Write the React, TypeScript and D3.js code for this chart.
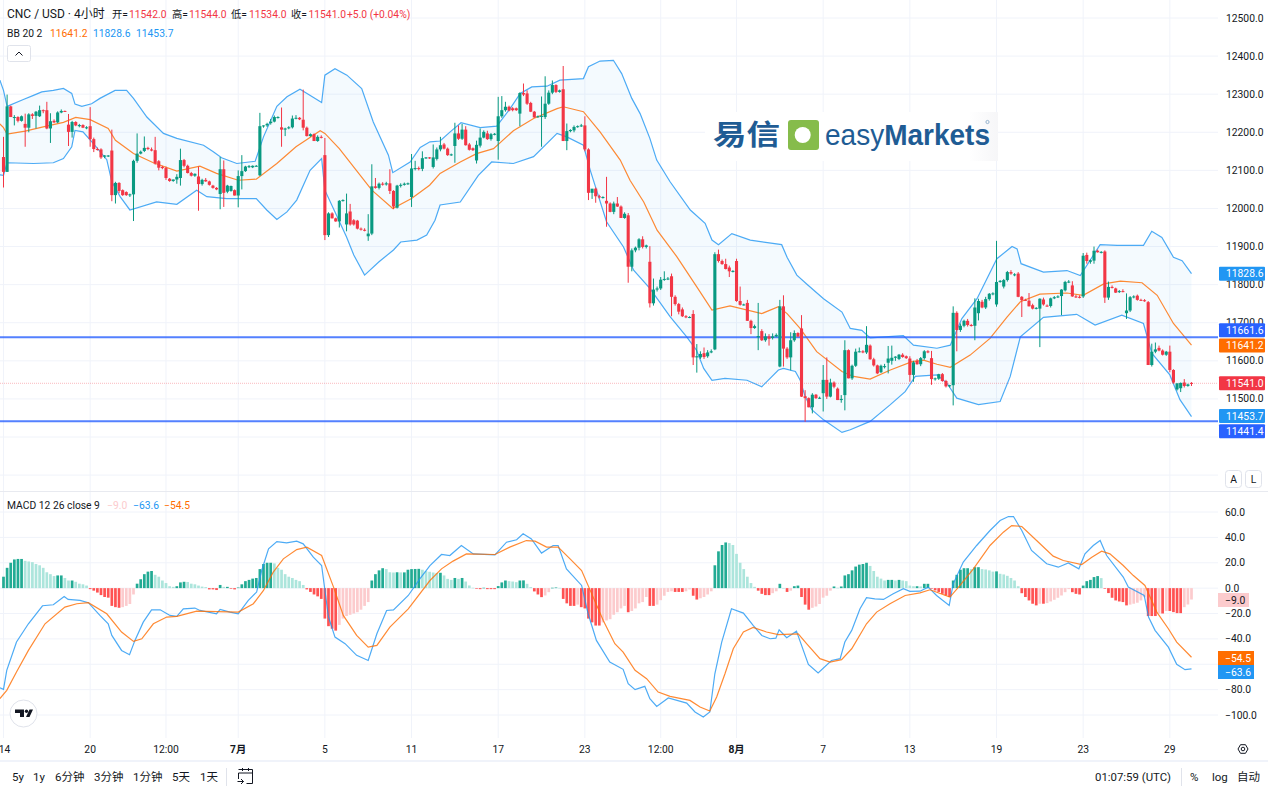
import React from "react";
import * as d3 from "d3";

const W = 1268;
const H = 793;
const FONT = "Roboto, 'Noto Sans CJK SC', sans-serif";

// candles
const opens = [
  12135,12096,12268,12240,12240,12230,12222,12212,12247,12243,
  12242,12258,12258,12210,12230,12226,12252,12256,12220,12201,
  12227,12216,12219,12213,12216,12182,12156,12155,12136,12137,
  12152,12035,12067,12048,12043,12035,12037,12125,12144,12151,
  12159,12155,12153,12124,12109,12106,12078,12072,12076,12080,
  12127,12112,12093,12086,12084,12064,12075,12071,12060,12054,
  12038,12103,12044,12046,12048,12034,12085,12098,12110,12108,
  12112,12087,12216,12218,12224,12228,12240,12213,12207,12212,
  12213,12236,12238,12233,12212,12190,12195,12177,12188,12140,
  11930,11987,11974,11966,12020,11958,11992,11969,11968,11947,
  11944,11927,11934,12058,12054,12065,12063,12066,12046,12002,
  12060,12062,12065,12030,12105,12106,12104,12132,12134,12109,
  12130,12155,12168,12157,12140,12164,12197,12183,12207,12168,
  12158,12126,12165,12186,12197,12182,12195,12177,12242,12258,
  12267,12263,12263,12249,12303,12302,12277,12254,12240,12242,
  12240,12275,12304,12324,12306,12313,12177,12203,12205,12214,
  12216,12218,12155,12041,12052,12032,12029,12020,12013,11991,
  12013,12005,11975,11982,11847,11890,11897,11919,11899,11860,
  11751,11787,11790,11813,11815,11822,11768,11749,11735,11717,
  11714,11723,11609,11609,11620,11612,11622,11630,11880,11862,
  11854,11845,11835,11862,11757,11747,11752,11705,11686,11662,
  11678,11654,11664,11660,11664,11585,11743,11632,11609,11654,
  11673,11685,11507,11502,11478,11511,11502,11515,11550,11506,
  11543,11527,11497,11510,11628,11554,11587,11624,11625,11622,
  11640,11604,11588,11570,11585,11595,11600,11608,11605,11616,
  11612,11606,11563,11600,11591,11607,11625,11607,11552,11553,
  11565,11547,11533,11536,11726,11681,11692,11705,11694,11692,
  11725,11755,11740,11762,11776,11748,11807,11795,11812,11833,
  11826,11829,11768,11760,11758,11746,11737,11737,11761,11745,
  11744,11764,11767,11770,11785,11807,11798,11769,11768,11769,
  11878,11860,11863,11889,11885,11887,11766,11794,11790,11782,
  11783,11725,11732,11767,11771,11760,11759,11754,11589,11624,
  11634,11627,11616,11624,11576,11525,11528,11543,11534,11542,
];
const highs = [
  12188,12299,12270,12245,12242,12244,12249,12250,12250,12256,
  12270,12260,12280,12250,12234,12255,12260,12257,12248,12230,
  12229,12222,12221,12216,12266,12186,12160,12158,12140,12140,
  12207,12070,12069,12050,12045,12039,12128,12197,12152,12189,
  12162,12160,12188,12127,12112,12110,12080,12076,12090,12157,
  12130,12115,12096,12092,12110,12078,12080,12073,12062,12056,
  12135,12126,12062,12060,12050,12100,12140,12112,12114,12113,
  12114,12251,12218,12225,12235,12244,12242,12265,12212,12216,
  12244,12245,12240,12312,12215,12197,12197,12192,12192,12185,
  11990,11990,11976,12022,12024,12039,12012,11972,11970,11950,
  11948,11985,12116,12080,12068,12069,12070,12103,12048,12062,
  12066,12068,12068,12143,12125,12110,12150,12135,12135,12168,
  12160,12188,12172,12160,12144,12225,12218,12222,12216,12172,
  12160,12178,12210,12205,12204,12198,12198,12293,12295,12280,
  12270,12266,12265,12305,12328,12310,12280,12256,12244,12294,
  12347,12310,12336,12326,12312,12374,12223,12208,12218,12218,
  12222,12242,12158,12045,12055,12036,12032,12083,12016,12018,
  12030,12008,11990,11988,11895,11900,11922,11927,11905,11901,
  11816,11795,11820,11835,11820,11829,11772,11752,11740,11720,
  11717,11733,11644,11625,11635,11628,11630,11885,11892,11866,
  11868,11850,11838,11868,11795,11750,11760,11708,11695,11752,
  11683,11672,11670,11672,11672,11760,11772,11636,11675,11680,
  11675,11720,11523,11504,11515,11513,11506,11589,11609,11553,
  11546,11530,11510,11654,11630,11590,11632,11635,11628,11691,
  11643,11608,11590,11590,11592,11639,11640,11612,11618,11620,
  11614,11612,11600,11605,11610,11628,11628,11626,11556,11566,
  11568,11550,11537,11743,11730,11698,11708,11710,11697,11764,
  11763,11760,11768,11778,11780,11915,11812,11815,11836,11838,
  11830,11833,11770,11763,11778,11750,11741,11764,11766,11748,
  11766,11770,11772,11788,11810,11812,11809,11773,11772,11883,
  11884,11866,11900,11892,11888,11890,11808,11798,11792,11786,
  11788,11777,11770,11772,11774,11763,11762,11757,11645,11648,
  11640,11630,11626,11640,11578,11540,11543,11552,11540,11544,
];
const lows = [
  12055,12096,12240,12218,12226,12228,12162,12200,12235,12210,
  12240,12250,12208,12172,12224,12224,12250,12254,12164,12186,
  12216,12213,12211,12208,12162,12148,12152,12130,12132,12135,
  12019,12013,12040,12033,12033,12030,11967,12120,12142,12148,
  12153,12150,12115,12100,12103,12075,12070,12070,12065,12060,
  12108,12092,12084,12083,11994,12060,12070,12060,12052,12048,
  11998,12004,12040,12044,12034,12003,12050,12096,12106,12106,
  12110,12085,12212,12214,12220,12226,12236,12162,12190,12208,
  12210,12234,12232,12205,12189,12188,12177,12175,12184,11917,
  11925,11974,11965,11950,12018,11940,11955,11955,11945,11942,
  11940,11915,11930,12052,12050,12060,12060,12038,11998,12000,
  12055,12060,12062,12004,12100,12100,12098,12130,12130,12105,
  12126,12150,12155,12138,12138,12120,12180,12180,12165,12152,
  12151,12118,12160,12184,12180,12178,12192,12128,12238,12254,
  12255,12255,12256,12216,12295,12272,12253,12238,12238,12162,
  12235,12272,12300,12303,12304,12177,12153,12200,12200,12212,
  12214,12150,12022,12025,12015,12026,12026,11952,11990,11985,
  12004,11975,11973,11805,11835,11885,11890,11895,11895,11740,
  11745,11782,11786,11810,11812,11717,11745,11722,11715,11712,
  11712,11589,11569,11605,11605,11608,11620,11628,11858,11852,
  11840,11820,11832,11755,11745,11745,11705,11670,11684,11628,
  11652,11650,11640,11656,11662,11583,11585,11605,11575,11650,
  11662,11505,11440,11478,11462,11500,11500,11467,11500,11504,
  11528,11497,11490,11470,11554,11550,11584,11622,11620,11618,
  11603,11585,11565,11568,11580,11567,11590,11600,11602,11608,
  11605,11545,11545,11590,11586,11603,11620,11537,11548,11550,
  11545,11530,11530,11483,11625,11676,11688,11690,11690,11654,
  11706,11738,11736,11758,11772,11742,11805,11790,11808,11826,
  11822,11767,11715,11757,11743,11735,11735,11636,11745,11742,
  11740,11762,11765,11720,11782,11804,11768,11765,11764,11765,
  11855,11855,11855,11884,11882,11752,11760,11790,11778,11778,
  11780,11710,11728,11764,11758,11758,11755,11589,11585,11620,
  11625,11614,11613,11570,11540,11522,11518,11530,11532,11534,
];
const closes = [
  12096,12268,12240,12240,12230,12242,12212,12247,12243,12254,
  12258,12256,12210,12229,12226,12252,12256,12255,12201,12227,
  12218,12219,12212,12213,12182,12156,12154,12134,12139,12139,
  12035,12067,12046,12035,12035,12037,12125,12144,12149,12159,
  12156,12152,12118,12107,12106,12080,12072,12076,12083,12127,
  12112,12093,12086,12091,12064,12075,12071,12062,12054,12050,
  12103,12041,12060,12059,12034,12085,12098,12110,12111,12112,
  12112,12216,12218,12222,12228,12240,12240,12207,12210,12213,
  12236,12238,12234,12212,12190,12195,12177,12188,12187,11930,
  11987,11974,11966,12020,12022,11987,11958,11958,11947,11945,
  11943,11934,12058,12054,12065,12063,12066,12046,12005,12060,
  12062,12065,12066,12105,12106,12104,12132,12134,12133,12134,
  12155,12166,12157,12140,12142,12197,12183,12207,12166,12154,
  12153,12167,12186,12201,12182,12195,12196,12242,12258,12267,
  12257,12258,12258,12303,12299,12275,12254,12239,12242,12243,
  12275,12304,12324,12306,12310,12177,12203,12206,12214,12216,
  12218,12155,12041,12052,12032,12029,12030,12013,11991,12013,
  12005,11975,11986,11847,11890,11897,11919,11899,11903,11751,
  11787,11790,11813,11815,11816,11768,11749,11729,11717,11714,
  11715,11609,11612,11618,11610,11622,11625,11880,11862,11854,
  11841,11835,11836,11757,11747,11748,11705,11686,11691,11665,
  11654,11664,11658,11664,11668,11743,11632,11609,11654,11673,
  11664,11506,11502,11478,11511,11502,11503,11550,11506,11543,
  11532,11497,11500,11628,11554,11587,11624,11625,11622,11642,
  11604,11588,11567,11587,11586,11606,11608,11611,11616,11610,
  11607,11563,11596,11591,11607,11625,11622,11552,11554,11565,
  11547,11533,11536,11726,11681,11692,11705,11694,11692,11740,
  11757,11740,11762,11776,11777,11807,11810,11812,11833,11829,
  11827,11768,11759,11758,11743,11737,11739,11763,11748,11744,
  11764,11767,11769,11787,11807,11808,11769,11768,11767,11876,
  11862,11864,11889,11885,11886,11766,11794,11792,11779,11783,
  11781,11732,11767,11769,11760,11759,11757,11589,11624,11630,
  11627,11616,11624,11576,11543,11541,11542,11534,11538,11541,
];

const macdHist = [
  9,16,20,22.6,23,23,21.5,21,20.5,19,
  18,16,12.5,11,9.5,10,10,8,6,6,
  5,3.5,3,2,-0.8,-2,-3.5,-5.5,-7,-7.5,
  -14,-15,-15.5,-15,-14,-12.5,-5,3.5,7,11,
  13,13.5,10.5,9,6,4,1.5,1,1.5,4.5,
  5,4.8,3.5,3,2,1.2,0.8,-1,-1,-1.5,
  2.5,1,1,-0.5,-1,0.5,3,5.5,6.5,7.5,
  8,15,19,20,20,19.5,16,14.5,11,9,
  8,6.5,5.5,2.5,-1,-3,-5,-6.5,-8.5,-24,
  -30,-32,-33.5,-29,-24,-22,-21,-20,-19,-17,
  -14,-11,6,11,14,15.7,15,12.5,12.3,12.5,
  12.4,12.4,14.5,15,15.1,15.2,14.5,13.4,12.9,12.3,
  12,12.1,10,7.3,6.5,8,7.3,8,5.2,2.1,
  0.3,-0.5,-0.8,0.3,-0.8,-0.8,-0.8,1.6,4.5,6,
  5.5,5.2,4.7,6,6.1,3.4,0.8,-2.6,-5,-7.1,
  -5.8,-3.2,0.3,0.5,0.2,-8.5,-12,-14,-14,-13,
  -15,-16,-24,-27,-29.5,-29.5,-27,-25.5,-24.5,-21,
  -19,-16,-14,-19,-18,-16,-12,-11,-7,-14,
  -14,-13,-9.5,-6,-3,-2.5,-3,-3,-3,-2.5,
  -1,-6,-9,-8,-7,-5,-2.5,18,29,34,
  36,35.5,34,27,20,15,9,4,1,-2,
  -4.5,-5.5,-5.5,-4,-2.5,3.4,0,-3,-2,1.5,
  2,-7,-13,-17,-15.5,-14.5,-12.5,-7.5,-6,-2,
  1.3,0.3,1.3,10,11,14,17,18.5,19,20,
  17.5,13.5,9,7.5,6,6.5,6.5,6,6.5,6,
  5.5,2,1.5,1.5,1.3,3.4,3.4,-0.5,-1.8,-3,
  -4.5,-5.8,-7,6,10.5,14.5,15.7,15.7,15,16.5,
  16.5,15,14.7,14,13,13.2,11.3,10.8,9.7,8,
  6,1.5,-4,-7,-9.7,-12.3,-13.6,-12.3,-12.3,-11.8,
  -10.5,-9.2,-7.6,-5.8,-3.2,-0.8,-3.2,-4.5,-5,2,
  5.5,6.5,8.7,9.5,7.9,-0.5,-3.9,-7.6,-9.7,-10.5,
  -11,-13.6,-13,-12.3,-11.5,-9.7,-7.1,-22,-22,-22,
  -20,-20,-18,-18,-18.9,-19.7,-19.7,-15,-12.9,-9,
];

// indicator lines: [bar, value] at the points where the drawn line bends
const bbUpper: [number, number][] = [
  [-1,12337],[0,12310],[1,12268],[5.5,12286],[8.3,12297],[10.6,12306],[13.8,12310],[16.6,12315],[18.9,12302],[19.8,12274],
  [21.7,12268],[24.4,12275],[26.7,12289],[30.9,12310],[34.1,12310],[36,12289],[39.7,12240],[44.3,12197],[48,12184],[55.4,12166],
  [58.1,12149],[60.4,12133],[64.6,12118],[69.7,12124],[72,12188],[75.7,12268],[78.5,12293],[82.1,12313],[84.4,12300],[88.1,12278],
  [89,12350],[91.8,12367],[95.1,12350],[99.2,12315],[102.4,12227],[106.6,12140],[107.8,12094],[112.6,12122],[115.4,12160],[118.1,12175],
  [120.9,12177],[123.7,12201],[126.7,12225],[132,12212],[136.6,12216],[140.3,12262],[143.1,12302],[146.3,12319],[150.5,12321],[154.1,12337],
  [160.6,12341],[162,12372],[165.2,12387],[168.9,12389],[171.2,12354],[174,12289],[176.3,12249],[179,12184],[180.9,12127],[184.6,12070],
  [190.2,11996],[194.3,11961],[196.2,11917],[198,11905],[201.7,11934],[206.8,11917],[215.5,11905],[217,11872],[219.7,11825],[222.5,11801],
  [227.1,11763],[232.2,11728],[234.5,11685],[237.7,11680],[240,11660],[249.2,11666],[252,11641],[258.5,11633],[262.2,11641],[265.4,11711],
  [269.6,11763],[275.1,11868],[279.3,11900],[280.7,11894],[281.8,11855],[288,11833],[294.5,11837],[298.2,11824],[303.7,11905],[308.4,11903],
  [315.7,11903],[318,11940],[320.8,11924],[324,11872],[326.4,11863],[329,11829],
];
const bbMiddle: [number, number][] = [
  [-1,12222],[0,12212],[1,12195],[6,12203],[11,12214],[16.6,12226],[20,12239],[24,12233],[29,12210],[31,12179],
  [36,12144],[41.5,12120],[48,12098],[54.4,12111],[59,12092],[65,12074],[70,12077],[75.7,12118],[81,12162],[87.7,12204],
  [89,12197],[93,12157],[102,12048],[107.8,12000],[113,12026],[118,12061],[120.9,12092],[126.5,12122],[131,12144],[135.7,12157],
  [141.2,12204],[146.8,12236],[153.3,12262],[155,12267],[160.6,12254],[165.2,12201],[170.8,12127],[173.5,12074],[177.3,12017],[181,11943],
  [186.5,11873],[192,11794],[196.2,11733],[201.2,11744],[210,11724],[214.6,11742],[217,11724],[220.6,11685],[225.2,11624],[232.2,11572],
  [235.4,11559],[240,11552],[245.6,11576],[251.6,11598],[254.8,11602],[258.5,11591],[262.2,11583],[267.7,11615],[273.2,11659],[277.9,11715],
  [281.6,11755],[287,11775],[294.5,11778],[299,11772],[304.7,11802],[309.3,11809],[315.3,11805],[319.5,11772],[324,11698],[329,11641.2],
];
const bbLower: [number, number][] = [
  [-1,12088],[0,12087],[1,12120],[8.3,12118],[13.8,12120],[16.6,12131],[18.9,12162],[19.8,12205],[22,12201],[24.9,12170],
  [28.6,12128],[30,12070],[32.3,12031],[35,11996],[42.4,12017],[48,12011],[53.5,12048],[56.3,12031],[61.8,12026],[70,12026],
  [72.9,11996],[75.7,11971],[78.5,11991],[81.2,12022],[84.9,12100],[88.1,12131],[89,12048],[95,11925],[97,11878],[100,11825],
  [104,11860],[108,11891],[110,11912],[114.5,11917],[117.2,11930],[119.5,11969],[120.9,12009],[126.5,12017],[131.5,12087],[135.2,12122],
  [141.2,12118],[146.8,12136],[153.3,12197],[156,12188],[160.6,12166],[162.5,12100],[167,11965],[171.7,11899],[174.5,11838],[179,11790],
  [184.6,11716],[189.2,11663],[191.9,11628],[193.9,11580],[196.2,11549],[199.8,11554],[205.9,11549],[210,11532],[214.6,11576],[216,11580],
  [219.3,11572],[220.6,11550],[222,11506],[223.9,11471],[227.1,11445],[232.2,11412],[234.5,11419],[240,11441],[245.6,11485],[249.7,11519],
  [252.5,11559],[258.5,11563],[261.3,11541],[264,11502],[270,11485],[276,11493],[278.8,11559],[281.6,11663],[288,11714],[297.2,11722],
  [302.3,11694],[309.7,11720],[315.7,11698],[318,11620],[323,11563],[325.8,11498],[329,11453.7],
];
const macdLine: [number, number][] = [
  [-1,-78.5],[0,-79.8],[0.9,-64.8],[3.6,-42.5],[6.9,-28.1],[10.8,-13.9],[13.8,-13.1],[16.8,-6.6],[17.9,-8.9],[21.2,-9.7],
  [23.5,-11.5],[26.7,-21.5],[29,-28.1],[30,-37.3],[32.7,-49.1],[34.9,-52.5],[36.4,-41.2],[38.7,-26.8],[41,-17.1],[43.4,-17.1],
  [46.1,-21.5],[48,-22.3],[49.8,-16.3],[53,-15.7],[54.4,-17.6],[59,-20.2],[60,-16.8],[62.7,-18.9],[65,-20.2],[67.8,-9.7],
  [70.1,-3.1],[71.5,13.9],[73.4,31],[75.7,36.7],[78.4,35.7],[81.2,37],[83,34.9],[85.8,24.4],[88.1,17.8],[90,-22.8],
  [91.8,-38.6],[94.6,-43.8],[97.8,-53],[101,-57],[103.4,-36],[106.1,-17.6],[108,-17.1],[112.1,-5.8],[115.3,7.3],[118.1,17.8],
  [121.3,26.5],[123.6,25.7],[126.8,33.6],[130.1,27],[136.1,26.2],[139.3,36.2],[142.1,38.1],[143.9,42.8],[146.2,38.8],[149,27.6],
  [152.2,33.6],[153.6,33.6],[155.9,15.2],[160.1,2.1],[161.9,-20.2],[164.2,-41.2],[167.9,-58.3],[171.6,-64],[173,-75.3],[174.9,-80],
  [177.6,-77.4],[179,-87.1],[180.9,-93.2],[184.1,-86.6],[189.2,-90.6],[191.5,-97.6],[193.8,-101.6],[195.6,-97.6],[197,-67.5],[198.9,-42.5],
  [201.6,-16.3],[204.9,-19.7],[207.6,-29.4],[210,-37.3],[212.3,-39.9],[213.9,-39.4],[214.8,-32.8],[216.9,-39.1],[219.6,-33.9],[222.9,-60.1],
  [225.6,-66.9],[229.3,-57],[231.7,-55.6],[233,-42.5],[234.9,-33.3],[237.2,-16.3],[239,-7.6],[241.3,-8.4],[243.7,-8.9],[246.4,-4.5],
  [249.2,-0.5],[251,-2.6],[253.8,-2.4],[256.1,0.8],[258.4,-5.8],[261.9,-13.6],[263,3.4],[265.8,20.5],[269.5,33.6],[273.2,45.4],
  [276,53.3],[278.3,56.4],[279.7,56.4],[282,45.4],[284.7,29.7],[288.9,19.2],[292.1,16.5],[294.9,19.9],[297.8,15.2],[299.5,27],
  [301.8,33.6],[303.7,37.5],[305.5,25.7],[310.1,8.7],[311.5,0.8],[315.9,-5.8],[317.1,-22.8],[318.9,-33.3],[322.6,-46.5],[324.9,-60.1],
  [327.2,-64.3],[329,-63.6],
];
const macdSignal: [number, number][] = [
  [-1,-87.1],[0.9,-80.6],[3.6,-66.1],[6.9,-49.1],[11.5,-28.1],[17,-15],[20.3,-12.3],[23.5,-11.5],[28.6,-20.2],[32.7,-34.6],
  [36,-42],[38.3,-39.9],[41.5,-28.1],[45.2,-22.8],[48,-22.3],[53.5,-18.1],[65,-18.9],[69.2,-12.3],[72,-1.8],[74.7,12.6],
  [77.5,23.1],[81.2,30.4],[84,32.3],[88.1,25.7],[91.4,0.8],[94.1,-21.5],[97.8,-37.3],[101,-46.5],[103.4,-45.1],[107,-30.7],
  [112.1,-16.3],[118.1,6],[121.3,15.2],[124.5,21.3],[128.2,27],[136.1,26.5],[140.2,32.3],[144.8,37.5],[147.2,37],[150.4,32.3],
  [153.6,32.3],[156.9,23.1],[160.1,13.9],[163.3,-7.1],[166.1,-25.5],[169.3,-43.8],[171.6,-50.4],[174.9,-64.8],[178.1,-71.4],[181.3,-81.9],
  [184.6,-85.3],[190.1,-88.5],[192.9,-93.7],[195.6,-96.9],[197.5,-85.8],[199.8,-67.5],[202.1,-47.8],[204.9,-34.6],[207.6,-31],[211.3,-34.6],
  [214.6,-36.7],[220.1,-36],[222.4,-43.8],[226.1,-55.6],[228.9,-58.3],[232.1,-56.4],[234.9,-47.8],[239,-28.1],[241.8,-18.9],[245.5,-12.3],
  [249.7,-5.8],[253.8,-3.7],[256.6,-1.3],[262.1,-7.1],[264.9,2.1],[268.6,15.2],[273.2,33.6],[276.9,44.1],[279.2,49.3],[282,48.6],
  [286.1,37.5],[290.7,25.2],[293.5,21.8],[298.6,18.6],[301.4,24.4],[304.1,29.1],[306.4,27],[310.1,17.8],[312.9,9.9],[316.1,2.1],
  [319.4,-18.9],[322.6,-32],[324.9,-42.5],[329,-54.5],
];

const priceGrid = [12500,12400,12300,12200,12100,12000,11900,11800,11700,11600,11500,11400,11300];
const priceLabels = [12500,12400,12300,12200,12100,12000,11900,11800,11700,11600,11500];
const macdGrid = [60,40,20,0,-20,-40,-60,-80,-100];
// -60 sits behind the two value tags in the reference
const macdLabels = [60,40,20,0,-20,-40,-80,-100];
const timeTicks: [number, string, boolean][] = [
  [0,"14",false],[24,"20",false],[45,"12:00",false],[65,"7月",true],[89,"5",false],[113,"11",false],
  [137,"17",false],[161,"23",false],[182,"12:00",false],[203,"8月",true],[227,"7",false],[251,"13",false],
  [275,"19",false],[299,"23",false],[323,"29",false],
];
const levelLines = [11661.6, 11441.4];
const rangeButtons: [string, number][] = [["5y",12],["1y",33],["6分钟",55],["3分钟",94],["1分钟",133],["5天",172],["1天",200]];

// label tags on the right hand axis
const priceTags: [string, number, string][] = [
  ["11828.6",11828.6,"#2196f3"],["11661.6",11661.6,"#2962ff"],["11641.2",11641.2,"#ff6d00"],
  ["11541.0",11541,"#f23645"],["11453.7",11453.7,"#2196f3"],["11441.4",11441.4,"#2962ff"],
];

const UP = "#089981";
const DOWN = "#f23645";
const BLUE = "#2196f3";
const ORANGE = "#ff6d00";
const GRID = "#f0f3fa";
const INK = "#131722";

const x = d3.scaleLinear().domain([0, 329]).range([3.5, 1191.5]);
const yPrice = d3.scaleLinear().domain([12500, 11400]).range([18, 437]);
const yMacd = d3.scaleLinear().domain([60, -100]).range([512, 715]);

const CHART_R = 1218;

function Label({ x: tx, y, fill = INK, size = 10.3, weight, anchor, children }: any) {
  return (
    <text x={tx} y={y} fill={fill} fontSize={size} fontWeight={weight} textAnchor={anchor} dominantBaseline="central">
      {children}
    </text>
  );
}

export default function App() {
  const bandLine = d3.line<[number, number]>().x(d => x(d[0])).y(d => yPrice(d[1]));
  const macdPath = d3.line<[number, number]>().x(d => x(d[0])).y(d => yMacd(d[1]));
  const bandFill = bandLine([...bbUpper, ...[...bbLower].reverse()]) + "Z";
  const wickW = 1;
  const bodyW = 3.1;
  const histW = 2.7;

  return (
    <svg width={W} height={H} style={{ position: "absolute", left: 0, top: 0, display: "block", background: "#fff" }} fontFamily={FONT}>
      <defs>
        <clipPath id="main"><rect x={0} y={0} width={CHART_R} height={491} /></clipPath>
        <clipPath id="sub"><rect x={0} y={492} width={CHART_R} height={246} /></clipPath>
        <linearGradient id="logoEdge" x1="0" x2="1">
          <stop offset="0.9" stopColor="#fff" />
          <stop offset="1" stopColor="#f6f6f8" />
        </linearGradient>
      </defs>

      {/* grid */}
      {timeTicks.map(([i]) => (
        <line key={"v" + i} x1={x(i)} x2={x(i)} y1={0} y2={738} stroke={GRID} strokeWidth={1} />
      ))}
      {priceGrid.map(p => (
        <line key={p} x1={0} x2={CHART_R} y1={yPrice(p)} y2={yPrice(p)} stroke={GRID} strokeWidth={1} />
      ))}
      {macdGrid.map(v => (
        <line key={v} x1={0} x2={CHART_R} y1={yMacd(v)} y2={yMacd(v)} stroke={GRID} strokeWidth={1} />
      ))}

      {/* price pane */}
      <g clipPath="url(#main)">
        <path d={bandFill} fill={BLUE} fillOpacity={0.05} />
        <line x1={0} x2={CHART_R} y1={yPrice(11541)} y2={yPrice(11541)} stroke={DOWN} strokeOpacity={0.35} strokeWidth={1} strokeDasharray="1 1" />
        <path d={bandLine(bbUpper)!} fill="none" stroke={BLUE} strokeOpacity={0.8} strokeWidth={1.2} />
        <path d={bandLine(bbLower)!} fill="none" stroke={BLUE} strokeOpacity={0.8} strokeWidth={1.2} />
        <path d={bandLine(bbMiddle)!} fill="none" stroke={ORANGE} strokeOpacity={0.8} strokeWidth={1.2} />
        {levelLines.map(p => (
          <line key={p} x1={0} x2={CHART_R} y1={yPrice(p)} y2={yPrice(p)} stroke="#2962ff" strokeOpacity={0.8} strokeWidth={2} />
        ))}
        {closes.map((c, i) => {
          const o = opens[i];
          const color = c >= o ? UP : DOWN;
          const top = yPrice(Math.max(o, c));
          const h = Math.max(yPrice(Math.min(o, c)) - top, 1);
          return (
            <g key={i} fill={color}>
              <rect x={x(i) - wickW / 2} width={wickW} y={yPrice(highs[i])} height={yPrice(lows[i]) - yPrice(highs[i])} />
              <rect x={x(i) - bodyW / 2} width={bodyW} y={top} height={h} />
            </g>
          );
        })}
      </g>

      {/* logo */}
      <rect x={705} y={112} width={293} height={49} fill="url(#logoEdge)" />
      <text x={713} y={145} fontFamily="'Noto Sans CJK SC'" fontSize={28} fontWeight={700} fill="#1f5c94" textLength={67} lengthAdjust="spacingAndGlyphs">易信</text>
      <rect x={788} y={120} width={31} height={30} rx={3} fill="#86bc4b" />
      <circle cx={802.7} cy={135} r={8} fill="#fff" />
      <text x={825} y={145} fontFamily="'Liberation Sans'" fontSize={30} fill="#1f5c94" textLength={165} lengthAdjust="spacingAndGlyphs">
        <tspan>easy</tspan>
        <tspan fontWeight={700}>Markets</tspan>
      </text>
      <circle cx={987.5} cy={122} r={1.6} fill="none" stroke="#7fa3c4" strokeWidth={0.8} />

      {/* macd pane */}
      <line x1={0} x2={W} y1={491.5} y2={491.5} stroke="#e8eaf0" strokeWidth={1} />
      <g clipPath="url(#sub)">
        {macdHist.map((v, i) => {
          const prev = i > 0 ? macdHist[i - 1] : v;
          const strong = v >= 0 ? v >= prev : v <= prev;
          const color = v >= 0 ? (strong ? "#22ab94" : "#ace5dc") : strong ? "#ff5252" : "#fccbcd";
          const y0 = yMacd(0);
          const y1 = yMacd(v);
          return <rect key={i} x={x(i) - histW / 2} width={histW} y={Math.min(y0, y1)} height={Math.max(Math.abs(y1 - y0), 0.6)} fill={color} />;
        })}
        <path d={macdPath(macdLine)!} fill="none" stroke={BLUE} strokeOpacity={0.8} strokeWidth={1.2} />
        <path d={macdPath(macdSignal)!} fill="none" stroke={ORANGE} strokeOpacity={0.8} strokeWidth={1.2} />
      </g>

      {/* legends */}
      <Label x={7} y={14} size={12}>CNC / USD · 4小时</Label>
      <Label x={112} y={14}>开=</Label>
      <Label x={129} y={14} fill={DOWN}>11542.0</Label>
      <Label x={172} y={14}>高=</Label>
      <Label x={189} y={14} fill={DOWN}>11544.0</Label>
      <Label x={231} y={14}>低=</Label>
      <Label x={249} y={14} fill={DOWN}>11534.0</Label>
      <Label x={291} y={14}>收=</Label>
      <Label x={308.5} y={14} fill={DOWN}>11541.0</Label>
      <Label x={347} y={14} fill={DOWN}>+5.0 (+0.04%)</Label>
      <Label x={7} y={33}>BB 20 2</Label>
      <Label x={50} y={33} fill={ORANGE}>11641.2</Label>
      <Label x={93} y={33} fill={BLUE}>11828.6</Label>
      <Label x={136} y={33} fill={BLUE}>11453.7</Label>
      <rect x={7.5} y={45.5} width={23} height={16} rx={2} fill="#fff" stroke="#e0e3eb" />
      <path d="M15.5 55.5 L19 52 L22.5 55.5" fill="none" stroke={INK} strokeWidth={1} />
      <Label x={7} y={505}>MACD 12 26 close 9</Label>
      <Label x={107} y={505} fill="#fccbcd">−9.0</Label>
      <Label x={133} y={505} fill={BLUE}>−63.6</Label>
      <Label x={164} y={505} fill={ORANGE}>−54.5</Label>

      {/* right axes */}
      {priceLabels.map(p => (
        <Label key={p} x={1226} y={yPrice(p)}>{d3.format(".1f")(p)}</Label>
      ))}
      {macdLabels.map(v => (
        <Label key={v} x={1225} y={yMacd(v)}>{d3.format(".1f")(v)}</Label>
      ))}
      {priceTags.map(([t, p, c]) => {
        let cy = yPrice(p);
        if (p === 11661.6) cy -= 7;
        if (p === 11641.2) cy += 0.5;
        if (p === 11441.4) cy += 10;
        if (p === 11453.7) cy -= 0.5;
        return (
          <g key={t}>
            <rect x={1219} y={cy - 7} width={46} height={14} rx={1} fill={c} />
            <Label x={1226} y={cy} fill="#fff">{t}</Label>
          </g>
        );
      })}
      <rect x={1218} y={593} width={31} height={14} fill="#fccbcd" />
      <Label x={1225} y={600}>−9.0</Label>
      <rect x={1218} y={651} width={36} height={14} fill={ORANGE} />
      <Label x={1225} y={658} fill="#fff">−54.5</Label>
      <rect x={1218} y={665} width={36} height={14} fill={BLUE} />
      <Label x={1225} y={672} fill="#fff">−63.6</Label>

      {/* A / L */}
      <rect x={1225.5} y={470.5} width={16} height={17} rx={3} fill="#fff" stroke="#e0e3eb" />
      <Label x={1233.5} y={479} anchor="middle">A</Label>
      <rect x={1245.5} y={470.5} width={16} height={17} rx={3} fill="#fff" stroke="#e0e3eb" />
      <Label x={1253.5} y={479} anchor="middle">L</Label>

      {/* tv badge */}
      <circle cx={23.5} cy={713.5} r={13.5} fill="#fff" stroke="#e0e3eb" />
      <path d="M15 709.5h9v7.5h-4v-4h-5z M29.5 709.5h3.5l-3.5 7.5h-3.5z" fill={INK} />
      <circle cx={26.5} cy={711.2} r={1.7} fill={INK} />

      {/* time axis */}
      {timeTicks.map(([i, t, bold]) => (
        <Label key={"t" + i} x={i === 0 ? 4.5 : x(i)} y={749} anchor="middle" weight={bold ? 700 : 400}>{t}</Label>
      ))}
      <path d="M1238 749 L1240.5 744.7 L1245.5 744.7 L1248 749 L1245.5 753.3 L1240.5 753.3 Z" fill="none" stroke={INK} strokeWidth={1} />
      <circle cx={1243} cy={749} r={1.8} fill="none" stroke={INK} strokeWidth={1} />

      {/* bottom toolbar */}
      <rect x={0} y={760} width={W} height={2} fill="#f0f3fa" />
      {rangeButtons.map(([t, bx]) => (
        <Label key={t} x={bx} y={777} size={11.5}>{t}</Label>
      ))}
      <line x1={226.5} x2={226.5} y1={768} y2={786} stroke="#e0e3eb" />
      <path d="M238.5 769.5h14v14h-6 M238.5 773h14 M242.5 768v3 M248.5 768v3 M238.5 773v6 M237.5 781.5h6 M241 779l2.5 2.5L241 784" fill="none" stroke={INK} strokeWidth={1} />
      <Label x={1095} y={777} size={11.4}>01:07:59 (UTC)</Label>
      <line x1={1181.5} x2={1181.5} y1={768} y2={786} stroke="#e0e3eb" />
      <Label x={1190} y={777} size={11.5}>%</Label>
      <Label x={1212} y={777} size={11.5}>log</Label>
      <Label x={1237} y={777} size={11.5}>自动</Label>
    </svg>
  );
}
